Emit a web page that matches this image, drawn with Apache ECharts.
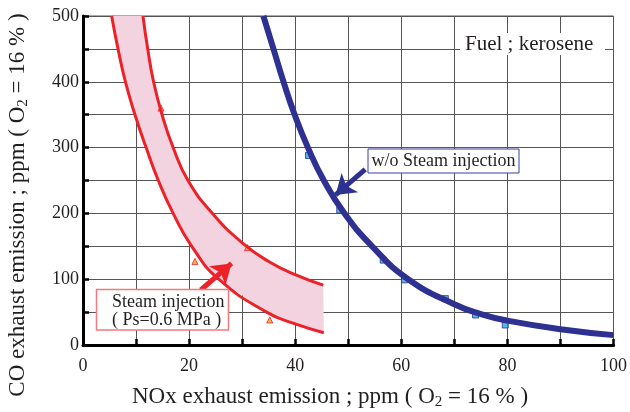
<!DOCTYPE html>
<html><head><meta charset="utf-8">
<script src="https://cdn.jsdelivr.net/npm/echarts@6/dist/echarts.min.js"></script>
<style>html,body{margin:0;padding:0;background:#fff}#c{width:630px;height:412px}</style>
</head><body><div id="c"></div>
<script>
// Axis ticks
const xTicks = [0, 20, 40, 60, 80, 100];
const yTicks = [0, 100, 200, 300, 400, 500];

// w/o steam injection: fitted curve
const blueCurveX = [34.0, 35.9, 37.8, 39.9, 42.4, 45.4, 49.3, 54.5, 61.3, 70, 75, 80, 90, 100];
const blueCurveY = [500, 450, 400, 350, 300, 250, 200, 150, 100, 62, 47, 37, 24, 15];
// w/o steam injection: measured points
const bluePtsX = [42.5, 48.4, 56.6, 60.6, 68.3, 74, 79.6];
const bluePtsY = [288, 205, 129, 99, 70.5, 45.6, 30.4];

// Steam injection band: upper (right) boundary and lower (left) boundary
const redUpperX = [11.3, 12.2, 13.3, 14.9, 17.0, 19.8, 24.4, 30.2, 35, 40, 45.3];
const redUpperY = [500, 450, 400, 350, 300, 250, 200, 154, 127, 107, 91];
const redLowerX = [5.4, 6.6, 8.0, 9.8, 11.9, 14.2, 17.0, 20.5, 25.6, 34.6, 40, 45.4];
const redLowerY = [500, 450, 400, 350, 300, 250, 200, 150, 100, 50, 32, 18.7];
// Steam injection measured points
const redPtsX = [14.7, 21.1, 31, 35.2];
const redPtsY = [360, 127, 148, 38];

// Annotation arrows (data coords: tail -> tip)
const blueArrow = [[53.2, 267], [47.6, 228]];
const redArrow = [[22.2, 83.6], [28.0, 124]];

const zip = (xs, ys) => xs.map((x, i) => [x, ys[i]]);

const BLUE = '#2e3192', RED = '#ed2128', PINK = '#f3d3e0';
const FONT = '"Liberation Serif","Times New Roman",serif';
const TXT = '#231f20';

const chart = echarts.init(document.getElementById('c'));
chart.setOption({
  animation: false,
  grid: { left: 83, right: 11, top: 16, bottom: 67, show: true, borderColor: '#555', borderWidth: 1 },
  xAxis: {
    type: 'value', min: 0, max: 100, interval: 10,
    axisLine: { lineStyle: { color: '#000', width: 3 } },
    axisTick: { inside: true, length: 6, lineStyle: { color: '#000', width: 2.5 } },
    axisLabel: { color: TXT, fontFamily: FONT, fontSize: 18, margin: 12,
      formatter: v => xTicks.includes(v) ? String(v) : '' },
    splitLine: { lineStyle: { color: '#555', width: 1 } }
  },
  yAxis: {
    type: 'value', min: 0, max: 500, interval: 50,
    axisLine: { lineStyle: { color: '#000', width: 3 } },
    axisTick: { inside: true, length: 6, lineStyle: { color: '#000', width: 2.5 } },
    axisLabel: { color: TXT, fontFamily: FONT, fontSize: 18, margin: 4,
      formatter: v => yTicks.includes(v) ? String(v) : '' },
    splitLine: { lineStyle: { color: '#555', width: 1 } }
  },
  series: [
    {
      type: 'custom', z: 1, data: [0], silent: true,
      renderItem: (params, api) => {
        const pts = zip(redUpperX, redUpperY).concat(zip(redLowerX, redLowerY).reverse())
          .map(p => api.coord(p));
        return { type: 'polygon', shape: { points: pts, smooth: 0 }, style: { fill: PINK } };
      }
    },
    { type: 'line', z: 3, data: zip(redUpperX, redUpperY), smooth: 0.5, symbol: 'none',
      lineStyle: { color: RED, width: 3 } },
    { type: 'line', z: 3, data: zip(redLowerX, redLowerY), smooth: 0.5, symbol: 'none',
      lineStyle: { color: RED, width: 3 } },
    { type: 'scatter', z: 2, data: zip(redPtsX, redPtsY), symbol: 'triangle', symbolSize: 6,
      itemStyle: { color: '#f7a21b', borderColor: RED, borderWidth: 1 } },
    { type: 'scatter', z: 2, data: zip(bluePtsX, bluePtsY), symbol: 'rect', symbolSize: 6,
      itemStyle: { color: '#27aae1', borderColor: BLUE, borderWidth: 1 } },
    { type: 'line', z: 4, data: zip(blueCurveX, blueCurveY), smooth: 0.5, symbol: 'none',
      lineStyle: { color: BLUE, width: 6 } },
    { type: 'lines', coordinateSystem: 'cartesian2d', z: 5, symbol: ['none', 'arrow'], symbolSize: [0, 19],
      data: [{ coords: blueArrow }], lineStyle: { color: BLUE, width: 5, opacity: 1 } },
    { type: 'lines', coordinateSystem: 'cartesian2d', z: 5, symbol: ['none', 'arrow'], symbolSize: [0, 19],
      data: [{ coords: redArrow }], lineStyle: { color: RED, width: 5, opacity: 1 } }
  ],
  graphic: [
    { type: 'rect', shape: { x: 460, y: 33, width: 145, height: 22 }, style: { fill: '#fff' }, z: 10 },
    { type: 'text', x: 465, y: 44, z: 11, style: { text: 'Fuel ; kerosene', fontFamily: FONT, fontSize: 21,
      fill: TXT, verticalAlign: 'middle' } },
    { type: 'rect', shape: { x: 368, y: 149, width: 151, height: 24 },
      style: { fill: '#fff', stroke: '#3b3f9c', lineWidth: 1 }, z: 10 },
    { type: 'text', x: 443.5, y: 161, z: 11, style: { text: 'w/o Steam injection', fontFamily: FONT, fontSize: 18,
      fill: TXT, align: 'center', verticalAlign: 'middle' } },
    { type: 'rect', shape: { x: 96.5, y: 289.5, width: 132, height: 40.5 },
      style: { fill: '#fff', stroke: '#f07a7e', lineWidth: 1.5 }, z: 10 },
    { type: 'text', x: 112, y: 302, z: 11, style: { text: 'Steam injection', fontFamily: FONT, fontSize: 18,
      fill: TXT, verticalAlign: 'middle' } },
    { type: 'text', x: 112, y: 320, z: 11, style: { text: '( Ps=0.6 MPa )', fontFamily: FONT, fontSize: 18,
      fill: TXT, verticalAlign: 'middle' } },
    { type: 'text', x: 330, y: 397, z: 11, style: {
      text: 'NOx exhaust emission ; ppm ( O{s|2} = 16 % )', fontFamily: FONT, fontSize: 23, fill: TXT,
      align: 'center', verticalAlign: 'middle',
      rich: { s: { fontFamily: FONT, fontSize: 15, padding: [10, 0, 0, 0], fill: TXT } } } },
    { type: 'text', x: 18, y: 205, rotation: Math.PI / 2, z: 11, style: {
      text: 'CO exhaust emission ; ppm ( O{s|2} = 16 % )', fontFamily: FONT, fontSize: 23, fill: TXT,
      align: 'center', verticalAlign: 'middle',
      rich: { s: { fontFamily: FONT, fontSize: 15, padding: [10, 0, 0, 0], fill: TXT } } } }
  ]
});
</script></body></html>
